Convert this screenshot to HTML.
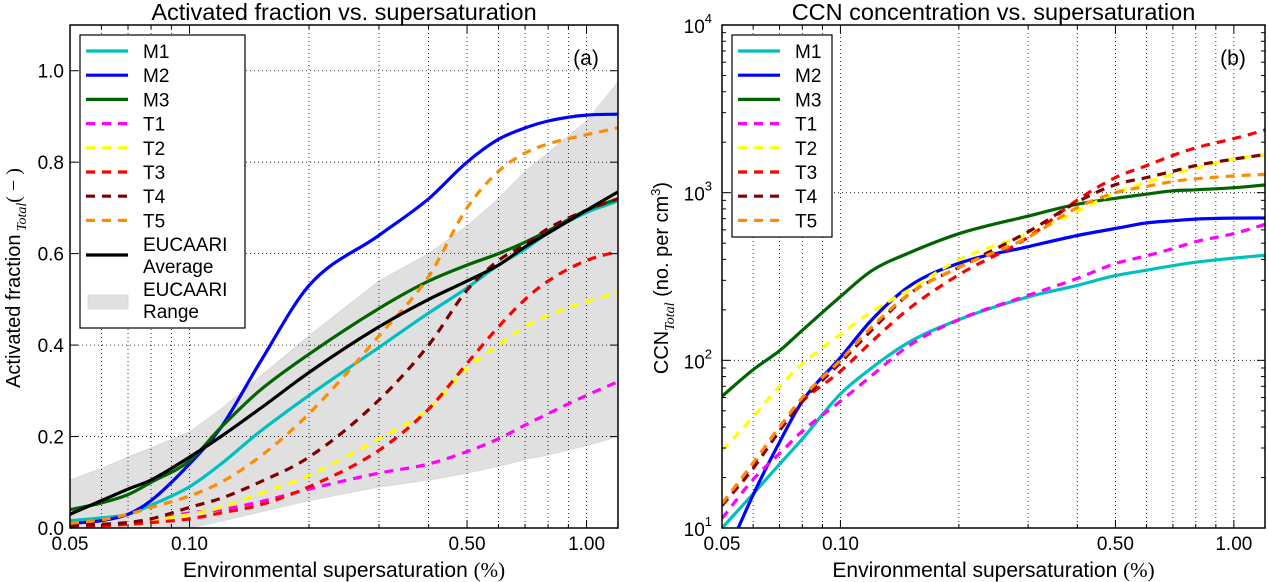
<!DOCTYPE html>
<html><head><meta charset="utf-8"><style>
body{margin:0;background:#fff}
svg{display:block;font-family:"Liberation Sans",sans-serif}
</style></head><body>
<svg id="fig" width="1268" height="582" viewBox="0 0 1268 582" xmlns="http://www.w3.org/2000/svg"></svg>
<script>
// shared x grid (supersaturation %)
const xs = [0.05,0.06,0.07,0.08,0.1,0.12,0.15,0.2,0.3,0.4,0.5,0.6,0.7,0.8,1.0,1.2];
const xTicks = [0.05,0.10,0.50,1.00];
const xTickLabels = ["0.05","0.10","0.50","1.00"];
const xMinor = [0.06,0.07,0.08,0.09,0.2,0.3,0.4,0.6,0.7,0.8,0.9];
const seriesNames = ["M1","M2","M3","T1","T2","T3","T4","T5"];
const seriesColors = ["#00bfbf","#0000ff","#006400","#ff00ff","#ffff00","#ff0000","#800000","#ff8c00"];
// panel (a) activated fraction
const aM1 = [0.016,0.022,0.03,0.05,0.09,0.14,0.21,0.29,0.395,0.47,0.525,0.575,0.61,0.645,0.69,0.715];
const aM2 = [0.01,0.016,0.03,0.06,0.14,0.22,0.36,0.53,0.64,0.72,0.8,0.85,0.875,0.89,0.903,0.905];
const aM3 = [0.04,0.055,0.073,0.1,0.147,0.22,0.30,0.38,0.48,0.54,0.575,0.60,0.625,0.65,0.695,0.72];
const aT1 = [0.002,0.006,0.01,0.016,0.033,0.04,0.057,0.085,0.12,0.14,0.167,0.195,0.225,0.25,0.29,0.32];
const aT2 = [0.002,0.006,0.01,0.016,0.03,0.045,0.075,0.115,0.195,0.26,0.35,0.40,0.44,0.465,0.495,0.515];
const aT3 = [0.002,0.005,0.008,0.012,0.02,0.033,0.05,0.09,0.17,0.26,0.36,0.44,0.50,0.54,0.585,0.605];
const aT4 = [0.005,0.008,0.012,0.02,0.045,0.065,0.1,0.155,0.28,0.40,0.52,0.585,0.62,0.655,0.695,0.72];
const aT5 = [0.01,0.018,0.03,0.045,0.07,0.10,0.155,0.25,0.42,0.55,0.70,0.78,0.82,0.84,0.86,0.875];
const aAvg = [0.03,0.06,0.085,0.105,0.155,0.2,0.26,0.34,0.44,0.5,0.54,0.575,0.615,0.645,0.695,0.735];
const aRangeHi = [0.105,0.13,0.155,0.175,0.21,0.26,0.33,0.42,0.54,0.6,0.66,0.72,0.78,0.82,0.89,0.975];
const aRangeLo = [0,0,0,0,0,0.015,0.035,0.06,0.09,0.105,0.12,0.135,0.15,0.16,0.18,0.2];
const aYTicks = [0,0.2,0.4,0.6,0.8,1.0];
const aYTickLabels = ["0.0","0.2","0.4","0.6","0.8","1.0"];
// panel (b) CCN concentration
const bM1 = [10,16,24,34,63,90,129,175,239,280,320,345,367,385,407,423];
const bM2 = [6,15.8,32.5,57,104,174,278,379,476,555,611,660,680,696,705,706];
const bM3 = [61,88,114,151,240,342,439,569,725,854,926,980,1026,1040,1070,1111];
const bT1 = [11.4,19.5,27.8,37.8,57,81,123,175,244,308,378,420,464,510,570,647];
const bT2 = [29,46,70,95,143,195,264,398,570,774,1000,1150,1286,1400,1585,1686];
const bT3 = [14,24,40,57,86,129,205,324,541,903,1230,1450,1668,1850,2100,2361];
const bT4 = [13.6,22.7,38,57,97,151,250,359,584,880,1116,1230,1341,1450,1585,1686];
const bT5 = [14,24.5,40,60,100,158,250,359,541,815,1000,1090,1166,1210,1259,1286];
const bYExp = [1,2,3,4];

const NS="http://www.w3.org/2000/svg";
const svg=document.getElementById('fig');
function mk(tag,attrs,parent){const e=document.createElementNS(NS,tag);for(const k in attrs)e.setAttribute(k,attrs[k]);(parent||svg).appendChild(e);return e;}
function xScale(x0,x1){return v=>x0+Math.log10(v/0.05)/Math.log10(1.2/0.05)*(x1-x0);}
// monotone cubic (Fritsch-Carlson) to avoid wobbles
function smooth(pts){const n=pts.length;const d=[],m=[];
 for(let i=0;i<n-1;i++)d.push((pts[i+1][1]-pts[i][1])/(pts[i+1][0]-pts[i][0]));
 m[0]=d[0];m[n-1]=d[n-2];
 for(let i=1;i<n-1;i++){m[i]=(d[i-1]*d[i]<=0)?0:(d[i-1]+d[i])/2;}
 for(let i=0;i<n-1;i++){if(d[i]===0){m[i]=0;m[i+1]=0;continue;}const a=m[i]/d[i],b=m[i+1]/d[i],s=a*a+b*b;if(s>9){const t=3/Math.sqrt(s);m[i]=t*a*d[i];m[i+1]=t*b*d[i];}}
 let p="M"+pts[0][0].toFixed(1)+","+pts[0][1].toFixed(1);
 for(let i=0;i<n-1;i++){const h=(pts[i+1][0]-pts[i][0])/3;
  p+="C"+(pts[i][0]+h).toFixed(1)+","+(pts[i][1]+m[i]*h).toFixed(1)+" "+(pts[i+1][0]-h).toFixed(1)+","+(pts[i+1][1]-m[i+1]*h).toFixed(1)+" "+pts[i+1][0].toFixed(1)+","+pts[i+1][1].toFixed(1);}
 return p;}

function panel(cfg){
 const {L,R,T,B,sx,sy,id}=cfg;
 const g=mk('g',{});
 
 
 const cp=mk('clipPath',{id:'clip'+id},g);mk('rect',{x:L,y:T,width:R-L,height:B-T},cp);
 const plot=mk('g',{'clip-path':'url(#clip'+id+')'},g);
 
 
 if(cfg.band){const top=xs.map((x,i)=>[sx(x),sy(cfg.band[0][i])]);const bot=xs.map((x,i)=>[sx(x),sy(cfg.band[1][i])]).reverse();
  const p=mk('path',{d:"M"+top.map(p=>p.join(",")).join("L")+"L"+bot.map(p=>p.join(",")).join("L")+"Z",fill:"#e0e0e0",stroke:"#d8d8d8"},plot);
  
  }
 xTicks.concat(xMinor).forEach(x=>{const l=mk('line',{x1:sx(x),x2:sx(x),y1:T,y2:B,stroke:"#000","stroke-width":0.8,"stroke-dasharray":"1,3"},plot);
  });
 cfg.yGrid.forEach(v=>{const l=mk('line',{x1:L,x2:R,y1:sy(v),y2:sy(v),stroke:"#000","stroke-width":0.8,"stroke-dasharray":"1,3"},plot);
  });
 cfg.series.forEach((s,i)=>{const pts=xs.map((x,j)=>[sx(x),sy(s[j])]);
  const a={d:smooth(pts),fill:"none",stroke:cfg.colors[i],"stroke-width":3.2};
  if(cfg.dashed[i])a["stroke-dasharray"]="9,7";
  const p=mk('path',a,plot);
  
  });
 const fr=mk('rect',{x:L,y:T,width:R-L,height:B-T,fill:"none",stroke:"#000","stroke-width":1.5},g);
 
 xTicks.forEach((x,i)=>{mk('line',{x1:sx(x),x2:sx(x),y1:B,y2:B-8,stroke:"#000"},g);mk('line',{x1:sx(x),x2:sx(x),y1:T,y2:T+8,stroke:"#000"},g);
  const t=mk('text',{x:sx(x),y:B+22,"text-anchor":"middle","font-size":19},g);t.textContent=xTickLabels[i];
  });
 xMinor.forEach(x=>{mk('line',{x1:sx(x),x2:sx(x),y1:B,y2:B-4,stroke:"#000"},g);mk('line',{x1:sx(x),x2:sx(x),y1:T,y2:T+4,stroke:"#000"},g);});
 const xl=mk('text',{x:(L+R)/2,y:B+49,"text-anchor":"middle","font-size":21},g);
 xl.innerHTML='Environmental supersaturation <tspan font-family="Liberation Serif">(%)</tspan>';
 
 const tt=mk('text',{x:(L+R)/2,y:20,"text-anchor":"middle","font-size":23.5},g);tt.textContent=cfg.title;
 
 const pl=mk('text',{x:R-32,y:65,"text-anchor":"middle","font-size":21},g);pl.textContent=cfg.tag;
 
 return g;
}

function legend(g,x,y,w,h,lineX,textX,names,colors,dashed,extra){
 const lg=mk('g',{},g);
 
 
 mk('rect',{x:x,y:y,width:w,height:h,fill:"#fff",stroke:"#000","stroke-width":1.2},lg);
 names.forEach((n,i)=>{const yy=y+16+i*24.2;
  const a={x1:lineX,x2:lineX+42,y1:yy,y2:yy,stroke:colors[i],"stroke-width":3.2};if(dashed[i])a["stroke-dasharray"]="9,7";
  mk('line',a,lg);const t=mk('text',{x:textX,y:yy+7,"font-size":19},lg);t.textContent=n;
  });
 if(extra){
  mk('line',{x1:lineX,x2:lineX+42,y1:255,y2:255,stroke:"#000","stroke-width":3.2},lg);
  let t=mk('text',{x:textX,y:251,"font-size":19},lg);t.textContent="EUCAARI";
  t=mk('text',{x:textX,y:273,"font-size":19},lg);t.textContent="Average";
  
  mk('rect',{x:lineX+2,y:295,width:40,height:14,fill:"#e0e0e0",stroke:"#d8d8d8"},lg);
  t=mk('text',{x:textX,y:296,"font-size":19},lg);t.textContent="EUCAARI";
  t=mk('text',{x:textX,y:318,"font-size":19},lg);t.textContent="Range";
  
 }
}

const dashed=[false,false,false,true,true,true,true,true];
// Panel A
{const L=70,R=618,T=25,B=528;const sx=xScale(L,R);const sy=v=>B-v/1.1*(B-T);
 const g=panel({L,R,T,B,sx,sy,id:'a',band:[aRangeHi,aRangeLo],yGrid:aYTicks.slice(1),
  series:[aM1,aM2,aM3,aT1,aT2,aT3,aT4,aT5,aAvg],
  colors:seriesColors.concat(["#000"]),names:seriesNames.concat(["avg"]),dashed:dashed.concat([false]),title:"Activated fraction vs. supersaturation",tag:"(a)"});
 aYTicks.forEach((v,i)=>{mk('line',{x1:L,x2:L+8,y1:sy(v),y2:sy(v),stroke:"#000"},g);mk('line',{x1:R,x2:R-8,y1:sy(v),y2:sy(v),stroke:"#000"},g);
  const t=mk('text',{x:L-6,y:sy(v)+7,"text-anchor":"end","font-size":19},g);t.textContent=aYTickLabels[i];
  });
 const yl=mk('text',{transform:"translate(20,278) rotate(-90)","text-anchor":"middle","font-size":20},g);
 yl.innerHTML='Activated fraction<tspan font-family="Liberation Serif" font-style="italic" font-size="14" dy="6"> Total</tspan><tspan dy="-6" font-family="Liberation Serif">( − )</tspan>';
 
 legend(g,80,35,165,293,86,143,seriesNames,seriesColors,dashed,true);}
// Panel B
{const L=722,R=1265,T=25,B=528;const sx=xScale(L,R);const sy=v=>B-(Math.log10(v)-1)/3*(B-T);
 const g=panel({L,R,T,B,sx,sy,id:'b',yGrid:[100,1000],
  series:[bM1,bM2,bM3,bT1,bT2,bT3,bT4,bT5],colors:seriesColors,names:seriesNames,dashed:dashed,title:"CCN concentration vs. supersaturation",tag:"(b)"});
 bYExp.forEach(e=>{const y=sy(Math.pow(10,e));mk('line',{x1:L,x2:L+8,y1:y,y2:y,stroke:"#000"},g);mk('line',{x1:R,x2:R-8,y1:y,y2:y,stroke:"#000"},g);
  const t=mk('text',{x:L-10,y:y+8,"text-anchor":"end","font-size":19},g);t.innerHTML='10<tspan font-size="13" dy="-10">'+e+'</tspan>';
  
  if(e<4)for(let k=2;k<10;k++){const yy=sy(k*Math.pow(10,e));mk('line',{x1:L,x2:L+4,y1:yy,y2:yy,stroke:"#000"},g);mk('line',{x1:R,x2:R-4,y1:yy,y2:yy,stroke:"#000"},g);}});
 const yl=mk('text',{transform:"translate(668,278) rotate(-90)","text-anchor":"middle","font-size":20},g);
 yl.innerHTML='CCN<tspan font-family="Liberation Serif" font-style="italic" font-size="14" dy="6">Total</tspan><tspan dy="-6"> (no. per cm</tspan><tspan font-size="13" dy="-8">3</tspan><tspan dy="8">)</tspan>';
 
 legend(g,732,35,100,202,738,795,seriesNames,seriesColors,dashed,false);}
</script>
</body></html>
